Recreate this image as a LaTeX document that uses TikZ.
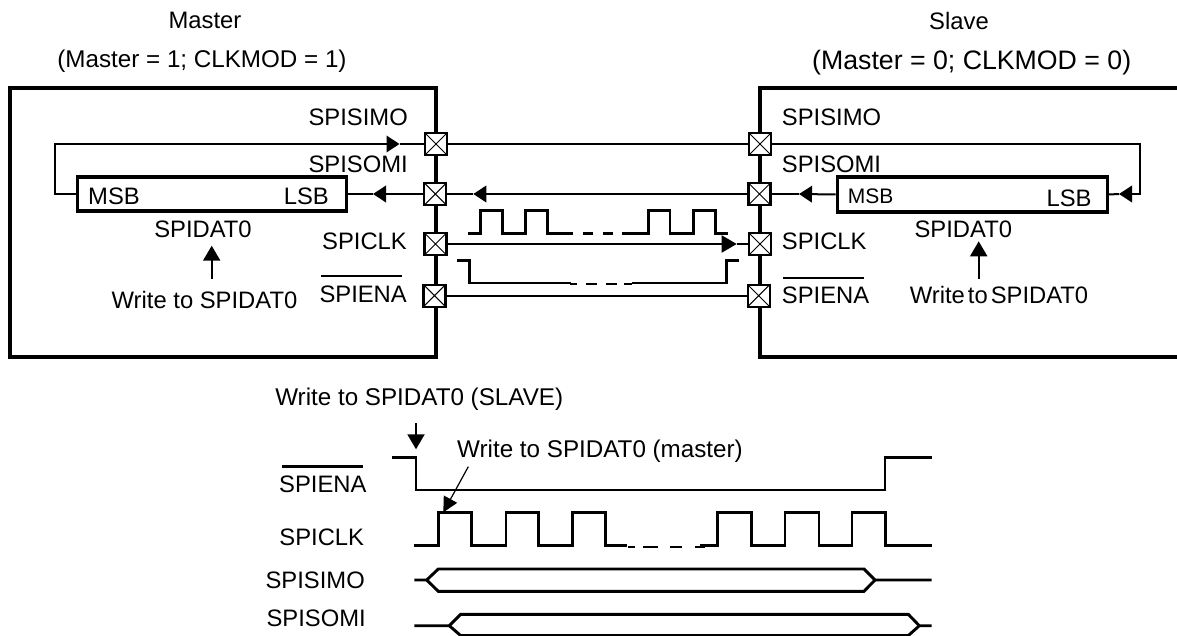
\documentclass[tikz,border=0pt]{standalone}
\usepackage{fontspec}
\setmainfont{Liberation Sans}
\usetikzlibrary{arrows.meta}
\newcommand{\fsA}{\fontsize{23.8}{27}\selectfont}
\newcommand{\fsB}{\fontsize{21}{24}\selectfont}
\newcommand{\fsC}{\fontsize{26.7}{30}\selectfont}
\newcommand{\fsD}{\fontsize{24.2}{27}\selectfont}
\tikzset{
  x=1pt,y=-1pt,
  lab/.style={inner sep=0pt,text height=17pt,text depth=0pt,font=\fsA,text=black},
  labwide/.style={inner sep=0pt,text height=17.3pt,text depth=0pt,font=\fsD,text=black},
  labsm/.style={inner sep=0pt,text height=15pt,text depth=0pt,font=\fsB,text=black},
  labbig/.style={inner sep=0pt,text height=19pt,text depth=0pt,font=\fsC,text=black},
  chip/.style={line width=3.6pt,line cap=rect,draw=black},
  padbox/.style={draw=black,fill=white,line width=2.2pt,minimum size=22pt,inner sep=0pt,
    path picture={\draw[line width=1pt] (path picture bounding box.north west)--(path picture bounding box.south east)
      (path picture bounding box.north east)--(path picture bounding box.south west);}},
  shiftreg/.style={draw=black,fill=white,line width=3.4pt,inner sep=0pt},
  wire/.style={line width=2pt,draw=black},
  flow/.style={wire,-{Triangle[length=13pt,width=16.5pt]}},
  flowlong/.style={wire,-{Triangle[length=15pt,width=17pt]}},
  wave/.style={line width=2.9pt,draw=black},
  bar/.style={line width=2.4pt,draw=black},
}
\begin{document}
\begin{tikzpicture}
\useasboundingbox (0,0) rectangle (1177,636);
\fill[white] (0,0) rectangle (1177,636);
% headers
\node[lab] (hm) at (205,20) {Master};
\node[labwide] (hmc) at (202,59) {(Master = 1; CLKMOD = 1)};
\node[lab] (hs) at (959,21) {Slave};
\node[labbig] (hsc) at (971.7,60) {(Master = 0; CLKMOD = 0)};
% chips
\draw[chip] (436,88) -- (10,88) -- (10,357) -- (436,357) -- cycle;
\draw[chip] (1180,88) -- (760,88) -- (760,357) -- (1180,357);
% shift registers
\node[shiftreg,minimum width=269pt,minimum height=34pt] (mreg) at (212.2,194) {};
\node[shiftreg,minimum width=270pt,minimum height=35pt] (sreg) at (972.3,194.5) {};
% pads
\node[padbox] (msimo) at (436,144) {};
\node[padbox] (msomi) at (435.3,194) {};
\node[padbox] (mclk) at (435.5,244) {};
\node[padbox] (mena) at (434.5,295.7) {};
\node[padbox] (ssimo) at (760,144) {};
\node[padbox] (ssomi) at (759.5,194) {};
\node[padbox] (sclk) at (760,244) {};
\node[padbox] (sena) at (758.7,295.7) {};
% free points of the connectors
\coordinate (t1) at (399.5,144);
\coordinate (t2) at (373,194);
\coordinate (t3) at (473.3,194);
\coordinate (t4) at (736.7,244);
\coordinate (t5) at (799,194);
\coordinate (t6) at (1119,194);
% connectors
\draw[flow] (mreg.west) -- (54.5,194) -- (54.5,144) -- (t1);
\draw[wire] (t1) -- (msimo.west);
\draw[wire] (msimo.east) -- (ssimo.west);
\draw[flow] (msomi.west) -- (t2);
\draw[wire] (t2) -- (mreg.east);
\draw[flow] (ssomi.west) -- (t3);
\draw[wire] (t3) -- (msomi.east);
\draw[flowlong] (mclk.east) -- (t4);
\draw[wire] (t4) -- (sclk.west);
\draw[wire] (mena.east) -- (sena.west);
\draw[flow] (sreg.west) -- (t5);
\draw[wire] (t5) -- (ssomi.east);
\draw[flow] (ssimo.east) -- (1140,144) -- (1140,194) -- (t6);
\draw[wire] (t6) -- (sreg.east);
% master labels
\node[lab,anchor=east] (l1) at (408,117) {SPISIMO};
\node[lab,anchor=east] (l2) at (408,164) {SPISOMI};
\node[lab,anchor=west] (l3) at (88,195.7) {MSB};
\node[lab,anchor=east] (l4) at (329,195.7) {LSB};
\node[lab] (l5) at (203,229) {SPIDAT0};
\node[lab,anchor=east] (l6) at (407,240.7) {SPICLK};
\node[lab,anchor=east] (l7) at (407,294) {SPIENA};
\draw[bar] (321,276) -- (402,276);
\node[lab] (l8) at (204.5,300) {Write to SPIDAT0};
\coordinate (a1) at (211.7,279);
\coordinate (a2) at (211.7,245.7);
\draw[flowlong] (a1) -- (a2);
% slave labels
\node[lab,anchor=west] (r1) at (781.7,117) {SPISIMO};
\node[lab,anchor=west] (r2) at (781.7,164) {SPISOMI};
\node[labsm,anchor=west] (r3) at (847.7,195.7) {MSB};
\node[lab,anchor=east] (r4) at (1091.7,197.7) {LSB};
\node[lab] (r5) at (963.3,229) {SPIDAT0};
\node[lab,anchor=west] (r6) at (781.7,240.7) {SPICLK};
\node[lab,anchor=west] (r7) at (781.7,294.7) {SPIENA};
\draw[bar] (783.3,277.7) -- (863.7,277.7);
\node[lab] (r8) at (999,295) {Write\hspace{3pt}to\hspace{3pt}SPIDAT0};
\coordinate (a3) at (978.7,279);
\coordinate (a4) at (978.7,241.3);
\draw[flowlong] (a3) -- (a4);
% waveforms between the chips
\draw[wave] (468.3,233.3) -- (480.7,233.3) -- (480.7,210.3) -- (502.7,210.3) -- (502.7,233.3) -- (525.3,233.3) -- (525.3,210.3) -- (547.7,210.3) -- (547.7,233.3) -- (573.3,233.3);
\draw[wave] (583.3,233.3) -- (593.3,233.3) (603.3,233.3) -- (613.3,233.3);
\draw[wave] (622.3,233.3) -- (648.3,233.3) -- (648.3,210.3) -- (670,210.3) -- (670,233.3) -- (693.3,233.3) -- (693.3,210.3) -- (715.7,210.3) -- (715.7,233.3) -- (727.7,233.3);
\draw[wave] (457.3,260.7) -- (469.7,260.7) -- (469.7,283) -- (570.7,283);
\draw[wave] (570,284) -- (576.7,284) (586,284) -- (596.7,284) (606,284) -- (616.7,284) (624,284) -- (631.7,284);
\draw[wave] (631.7,283) -- (726.7,283) -- (726.7,260.7) -- (738.7,260.7);
% timing diagram
\node[labwide] (w1) at (419.2,397) {Write to SPIDAT0 (SLAVE)};
\coordinate (a5) at (416,423.3);
\coordinate (a6) at (416,449.3);
\draw[flowlong] (a5) -- (a6);
\node[labwide] (w2) at (600,449) {Write to SPIDAT0 (master)};
\coordinate (a7) at (468.3,466.7);
\coordinate (a8) at (443.3,512.3);
\draw[line width=1.2pt,-{Triangle[length=15pt,width=15pt]}] (a7) -- (a8);
\node[lab,anchor=east] (t_ena) at (366.7,484.3) {SPIENA};
\draw[bar] (282.3,466.3) -- (362.7,466.3);
\node[lab,anchor=east] (t_clk) at (364.3,536.7) {SPICLK};
\node[lab,anchor=east] (t_simo) at (365,580) {SPISIMO};
\node[lab,anchor=east] (t_somi) at (366,618) {SPISOMI};
\draw[wave] (392.3,457.3) -- (416,457.3) -- (416,490) -- (885,490) -- (885,457.3) -- (931.7,457.3);
\draw[wave] (414.3,545.7) -- (438.7,545.7) -- (438.7,512.7) -- (471.7,512.7) -- (471.7,545.7) -- (506,545.7) -- (506,512.7) -- (538.7,512.7) -- (538.7,545.7) -- (572.7,545.7) -- (572.7,512.7) -- (605.3,512.7) -- (605.3,545.7) -- (627,545.7);
\draw[wave] (628,547) -- (635,547) (643,547) -- (658,547) (670,547) -- (682,547) (695,547) -- (705,547);
\draw[wave] (700,545.7) -- (717.7,545.7) -- (717.7,512.7) -- (751.7,512.7) -- (751.7,545.7) -- (785,545.7) -- (785,512.7) -- (819,512.7) -- (819,545.7) -- (852,545.7) -- (852,512.7) -- (885.3,512.7) -- (885.3,545.7) -- (931.7,545.7);
\draw[wave] (414.3,580) -- (426.7,580) -- (438.3,569) -- (864,569) -- (875,580) -- (931.7,580);
\draw[wave] (426.7,580) -- (438.3,591.3) -- (864,591.3) -- (875,580);
\draw[wave] (414.3,625.7) -- (449.3,625.7) -- (460.7,614.3) -- (908.3,614.3) -- (919.3,625.7) -- (931.7,625.7);
\draw[wave] (449.3,625.7) -- (460.7,635.6) -- (908.3,635.6) -- (919.3,625.7);
\end{tikzpicture}
\end{document}
